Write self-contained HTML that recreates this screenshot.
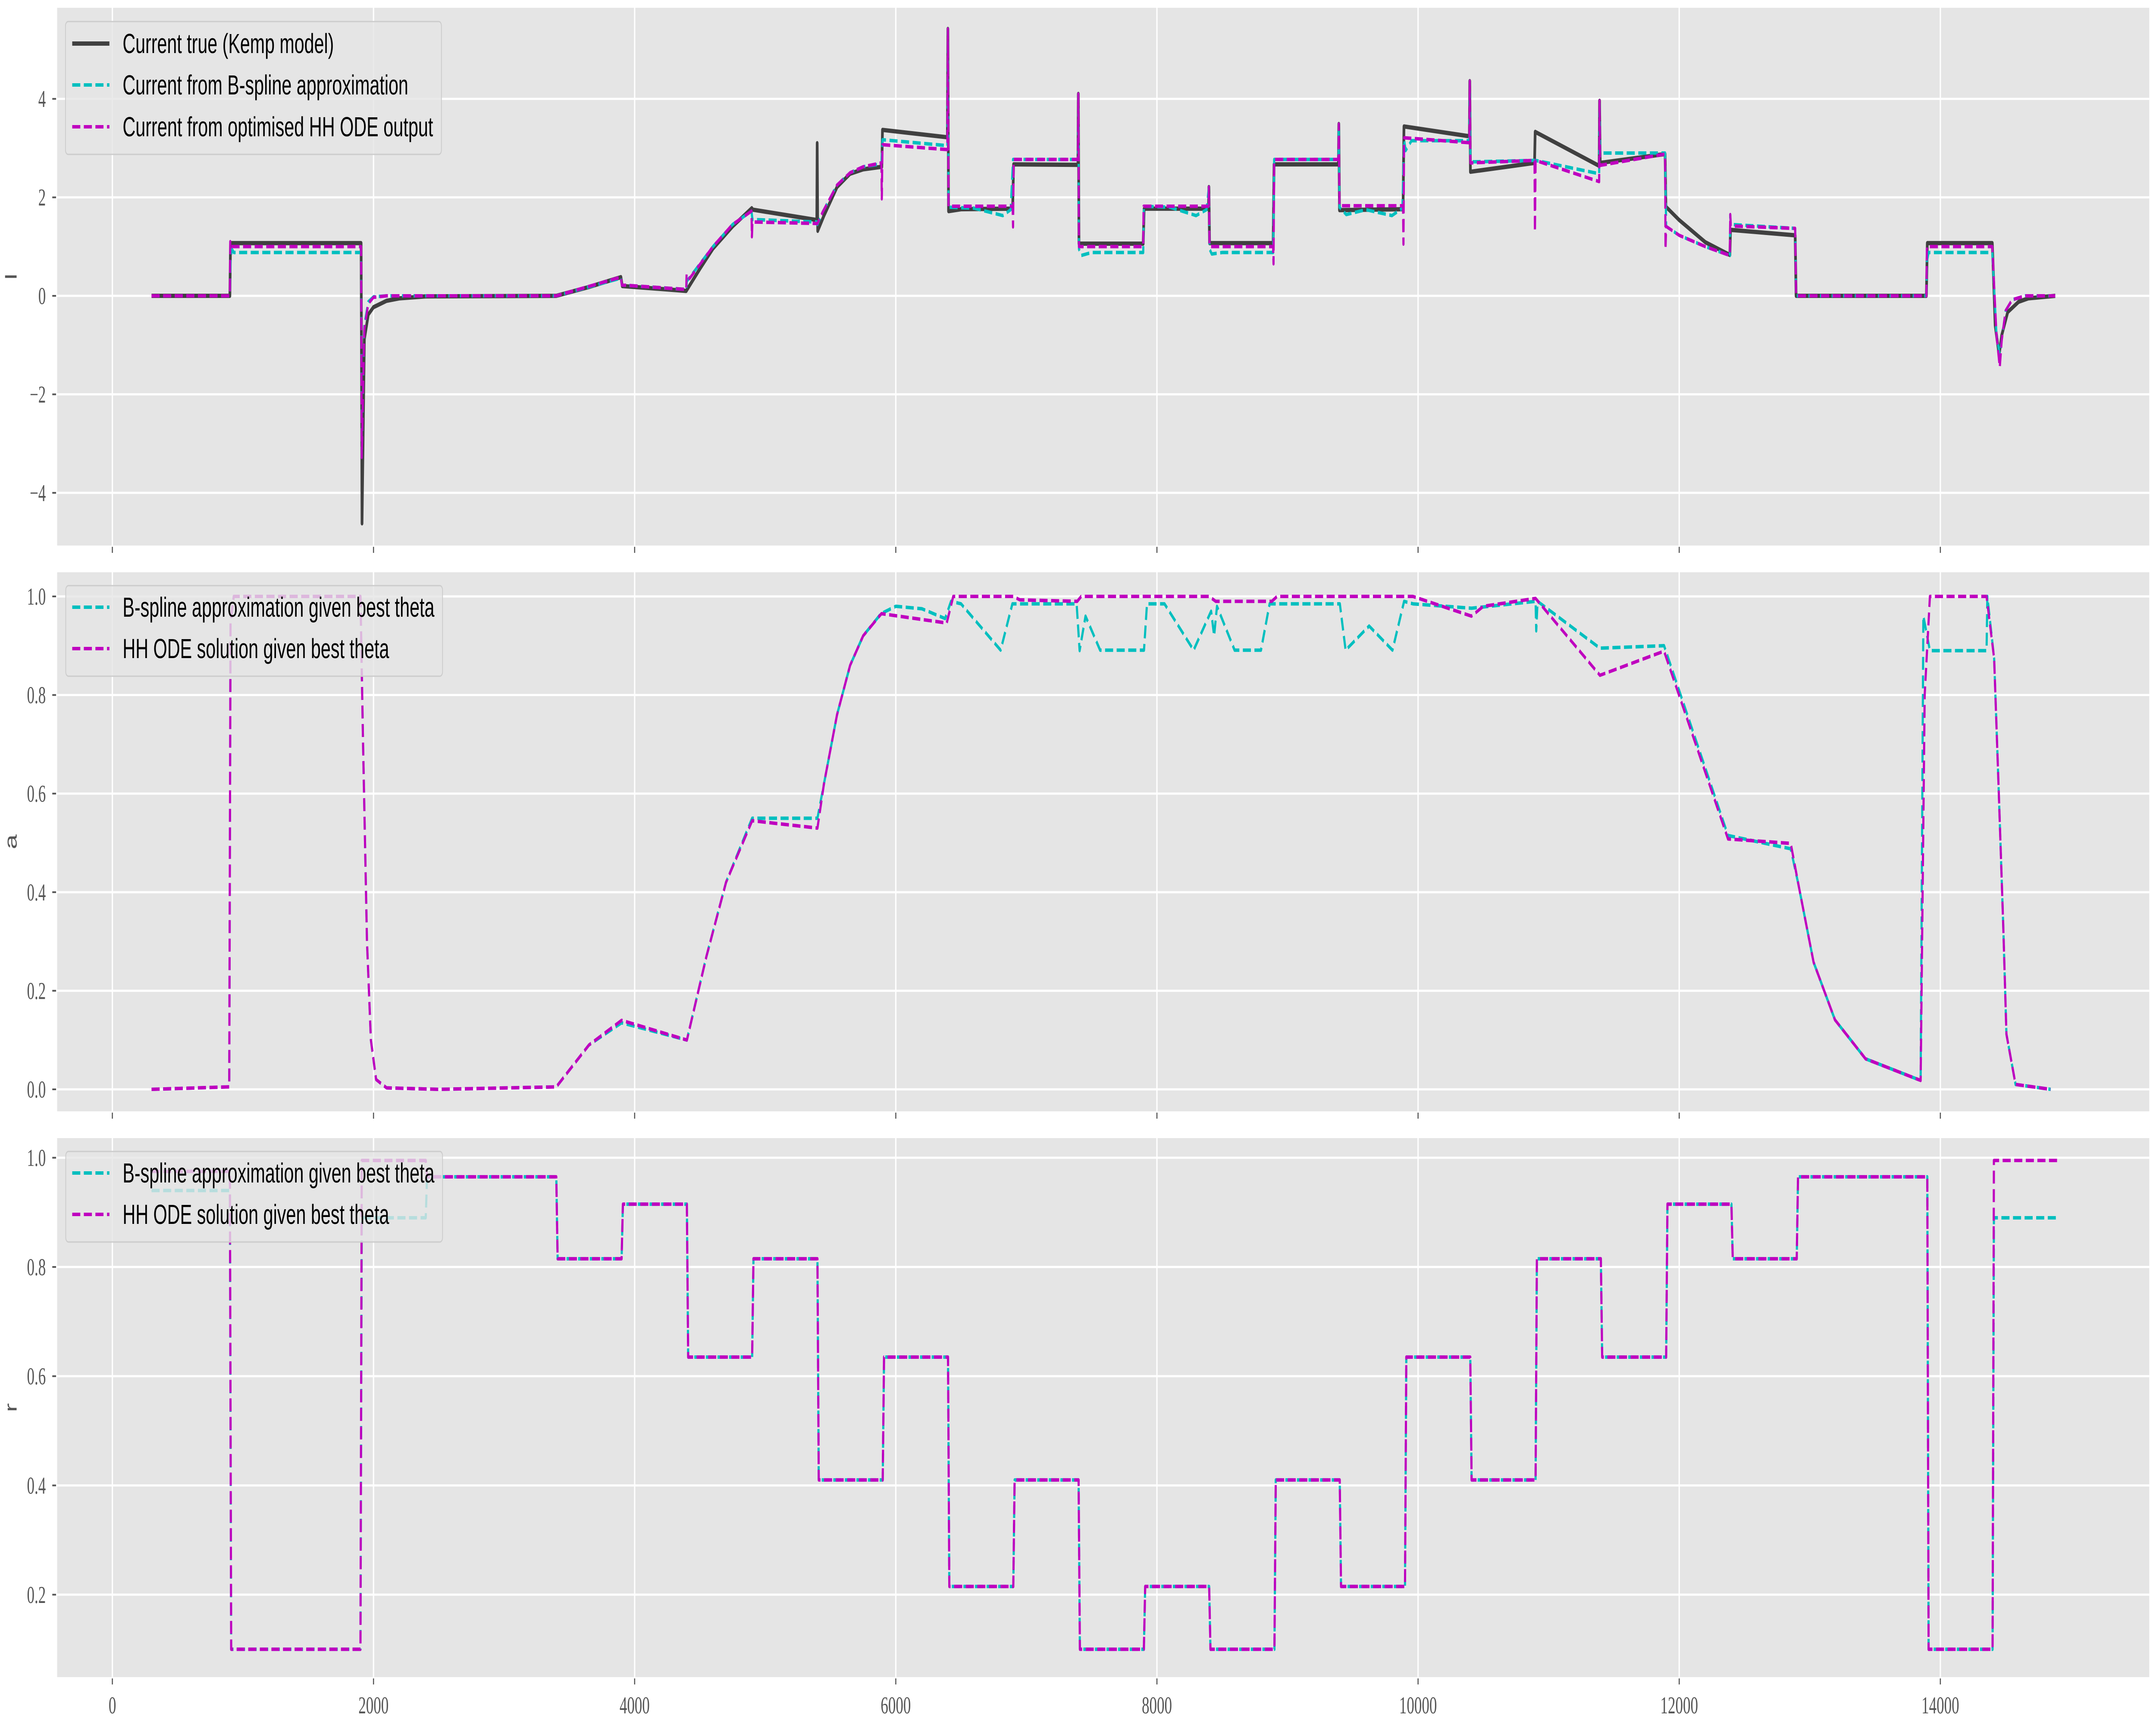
<!DOCTYPE html>
<html><head><meta charset="utf-8"><style>
html,body{margin:0;padding:0;background:#fff;overflow:hidden;width:100vw;height:100vh;}
svg{display:block;width:100vw;height:100vh;}
</style></head><body>
<svg id="chart" xmlns="http://www.w3.org/2000/svg" viewBox="0 0 8000 4000" preserveAspectRatio="none">
<rect x="0" y="0" width="8000" height="4000" fill="#ffffff"/>
<g id="panels"></g>
</svg>
<script>
// ---------- DATA ----------
const xTicks = [0, 2000, 4000, 6000, 8000, 10000, 12000, 14000];
const xTickLabels = ["0", "2000", "4000", "6000", "8000", "10000", "12000", "14000"];
const iTicks = [-4, -2, 0, 2, 4];
const iTickLabels = ["\u22124", "\u22122", "0", "2", "4"];
const aTicks = [0, 0.2, 0.4, 0.6, 0.8, 1.0];
const aTickLabels = ["0.0", "0.2", "0.4", "0.6", "0.8", "1.0"];
const rTicks = [0.2, 0.4, 0.6, 0.8, 1.0];
const rTickLabels = ["0.2", "0.4", "0.6", "0.8", "1.0"];

// Panel 1: current
const iTrueT = [300,900,905,1905,1912,1930,1960,2000,2100,2200,2400,3400,3650,3895,3905,4395,4500,4600,4750,4897,4905,5395,5398,5402,5450,5550,5650,5750,5893,5898,6395,6399,6404,6500,6895,6902,7395,7398,7403,7895,7902,8395,8398,8403,8890,8897,9390,9393,9398,9885,9892,10393,10396,10401,10892,10897,11387,11390,11395,11892,11898,12000,12200,12388,12393,12888,12895,13893,13900,14398,14420,14450,14470,14516,14600,14674,14880];
const iTrueV = [0,0,1.07,1.07,-4.62,-0.88,-0.38,-0.23,-0.1,-0.05,-0.01,0,0.18,0.38,0.2,0.1,0.55,0.96,1.41,1.78,1.75,1.54,3.1,1.32,1.63,2.21,2.48,2.57,2.62,3.37,3.22,5.42,1.72,1.76,1.77,2.67,2.66,4.1,1.06,1.06,1.77,1.77,2.21,1.07,1.07,2.67,2.67,3.49,1.74,1.76,3.44,3.24,4.36,2.52,2.7,3.33,2.64,3.96,2.7,2.88,1.81,1.54,1.09,0.83,1.34,1.23,0,0,1.07,1.07,-0.6,-1.2,-0.8,-0.33,-0.12,-0.05,0];

const iSplT = [300,900,905,915,930,1905,1910,1930,1960,2000,2100,3400,3895,3902,4395,4400,4600,4750,4895,4902,5395,5400,5440,5550,5650,5750,5890,5898,6395,6399,6404,6600,6820,6880,6898,7395,7398,7403,7420,7500,7895,7900,8100,8300,8380,8398,8403,8420,8500,8890,8898,9390,9393,9398,9450,9600,9800,9880,9893,9905,9950,10393,10396,10401,10892,10900,11387,11390,11395,11892,11900,12000,12200,12388,12391,12395,12888,12895,13893,13897,13910,14398,14430,14455,14470,14500,14550,14650,14880];
const iSplV = [0,0,0.7,0.95,0.88,0.88,-3.28,-0.6,-0.12,-0.02,0,0,0.36,0.22,0.13,0.3,1.0,1.45,1.72,1.55,1.5,1.45,1.7,2.25,2.5,2.62,2.68,3.17,3.05,5.42,1.8,1.78,1.63,1.75,2.77,2.77,4.1,0.95,0.82,0.88,0.88,1.82,1.8,1.63,1.75,2.21,0.95,0.85,0.88,0.88,2.77,2.77,3.49,1.8,1.65,1.75,1.63,1.78,3.17,2.95,3.15,3.15,4.36,2.72,2.75,2.75,2.48,3.96,2.9,2.9,1.41,1.23,1.0,0.82,1.65,1.45,1.37,0,0,0.7,0.88,0.88,-0.8,-1.2,-0.9,-0.3,-0.08,0,0];

const iOdeT = [300,900,903,908,1905,1910,1930,1960,2000,2100,3400,3895,3902,4395,4398,4420,4600,4750,4895,4898,4902,5395,5400,5440,5550,5650,5750,5890,5893,5898,6395,6399,6404,6895,6898,6903,7395,7398,7403,7895,7898,8395,8398,8403,8890,8893,8898,9390,9393,9398,9885,9888,9893,10393,10396,10401,10892,10895,10900,11387,11390,11395,11892,11895,11900,12000,12200,12388,12391,12395,12888,12895,13893,13897,14398,14430,14455,14470,14500,14550,14650,14880];
const iOdeV = [0,0,1.1,1.0,1.0,-3.28,-0.67,-0.16,-0.03,0,0,0.38,0.22,0.13,0.45,0.35,1.0,1.45,1.72,1.2,1.5,1.47,1.47,1.7,2.25,2.5,2.62,2.7,1.97,3.07,2.97,5.42,1.82,1.82,1.4,2.77,2.77,4.1,1.0,1.0,1.82,1.82,2.21,1.0,1.0,0.65,2.77,2.77,3.49,1.83,1.83,1.05,3.21,3.11,4.36,2.7,2.75,1.3,2.75,2.32,3.96,2.65,2.88,0.95,1.41,1.23,1.0,0.82,1.65,1.42,1.37,0,0,1.0,1.0,-0.8,-1.45,-0.9,-0.3,-0.08,0,0];

// Panel 2: a
const aOdeT = [300,895,905,930,1900,1920,1950,1980,2020,2100,2500,3400,3650,3900,4400,4550,4700,4900,5400,5450,5550,5650,5750,5890,6390,6440,6900,6950,7390,7420,8400,8450,8880,8920,9960,10409,10500,10900,11393,11884,12374,12854,12912,13029,13193,13427,13849,13880,13920,14354,14412,14447,14482,14506,14576,14845];
const aOdeV = [0,0.005,0.95,1.0,1.0,0.7,0.3,0.1,0.02,0.003,0,0.005,0.09,0.14,0.1,0.27,0.42,0.545,0.53,0.62,0.76,0.86,0.92,0.965,0.946,1.0,1.0,0.993,0.99,1.0,1.0,0.99,0.99,1.0,1.0,0.96,0.98,0.996,0.84,0.889,0.508,0.499,0.417,0.258,0.141,0.062,0.018,0.8,1.0,1.0,0.874,0.606,0.33,0.112,0.01,0];
const aSplT = [300,895,905,930,1900,1920,1950,1980,2020,2100,2500,3400,3650,3900,4400,4550,4700,4900,5400,5450,5550,5650,5750,5887,6000,6200,6378,6423,6500,6803,6893,7385,7408,7453,7565,7901,7924,8058,8281,8415,8438,8460,8595,8797,8863,9401,9445,9625,9804,9893,9961,10409,10900,10905,10915,11393,11884,12374,12854,12912,13029,13193,13427,13849,13870,13920,14354,14360,14412,14447,14482,14506,14576,14845];
const aSplV = [0,0.005,0.95,1.0,1.0,0.7,0.3,0.1,0.02,0.003,0,0.005,0.09,0.135,0.1,0.27,0.42,0.55,0.55,0.62,0.76,0.86,0.92,0.965,0.98,0.975,0.955,0.99,0.985,0.891,0.985,0.985,0.89,0.96,0.891,0.891,0.985,0.985,0.891,0.97,0.92,0.98,0.891,0.891,0.985,0.985,0.891,0.94,0.891,0.99,0.985,0.976,0.99,0.93,0.99,0.895,0.9,0.515,0.488,0.417,0.258,0.141,0.062,0.018,0.96,0.89,0.89,1.0,0.874,0.606,0.33,0.112,0.01,0];

// Panel 3: r (step levels between protocol times)
const rTimes = [300,900,1900,2400,3400,3900,4400,4900,5400,5900,6400,6900,7400,7900,8400,8900,9400,9900,10400,10900,11400,11900,12400,12900,13900,14400,14900];
const rOdeLevels = [0.975,0.1,0.995,0.965,0.815,0.915,0.635,0.815,0.41,0.635,0.215,0.41,0.1,0.215,0.1,0.41,0.215,0.635,0.41,0.815,0.635,0.915,0.815,0.965,0.1,0.995];
const rSplLevels = [0.94,0.1,0.89,0.965,0.815,0.915,0.635,0.815,0.41,0.635,0.215,0.41,0.1,0.215,0.1,0.41,0.215,0.635,0.41,0.815,0.635,0.915,0.815,0.965,0.1,0.89];

// ---------- RENDER ----------
const NS = "http://www.w3.org/2000/svg";
const root = document.getElementById("panels");
const X0 = 212, X1 = 7975, T0 = -423, T1 = 15600;
function xScale(t){ return X0 + (t - T0) / (T1 - T0) * (X1 - X0); }
function mk(tag, attrs, parent){
  const e = document.createElementNS(NS, tag);
  for (const k in attrs) e.setAttribute(k, attrs[k]);
  (parent || root).appendChild(e);
  return e;
}
function stepPoints(times, levels){
  const T = [], V = [];
  for (let i = 0; i < levels.length; i++){
    T.push(times[i] + (i === 0 ? 0 : 10)); V.push(levels[i]);
    T.push(times[i+1]); V.push(levels[i]);
  }
  return [T, V];
}
function pathD(T, V, yScale){
  let d = "";
  for (let i = 0; i < T.length; i++){
    d += (i ? "L" : "M") + xScale(T[i]).toFixed(1) + "," + yScale(V[i]).toFixed(1);
  }
  return d;
}

const panels = [
  {name:"current", top:18, bot:1265, vmin:-5.07, vmax:5.85, ticks:iTicks, labels:iTickLabels, ylabel:"I", xlabels:false},
  {name:"a-gate", top:1327, bot:2577, vmin:-0.0446, vmax:1.049, ticks:aTicks, labels:aTickLabels, ylabel:"a", xlabels:false},
  {name:"r-gate", top:2639, bot:3889, vmin:0.049, vmax:1.036, ticks:rTicks, labels:rTickLabels, ylabel:"r", xlabels:true}
];

panels.forEach(function(p, pi){
  const g = mk("g", {});
  
  
  const ys = function(v){ return p.bot - (v - p.vmin) / (p.vmax - p.vmin) * (p.bot - p.top); };
  const bg = mk("rect", {x:X0, y:p.top, width:X1-X0, height:p.bot-p.top, fill:"#e5e5e5"}, g);
  
  
  const clipId = "clip" + pi;
  const cp = mk("clipPath", {id:clipId}, g);
  mk("rect", {x:X0, y:p.top, width:X1-X0, height:p.bot-p.top}, cp);
  xTicks.forEach(function(t, i){
    const x = xScale(t);
    const gl = mk("line", {x1:x, x2:x, y1:p.top, y2:p.bot, stroke:"#ffffff", "stroke-width":5}, g);
    
    
    const tk = mk("line", {x1:x, x2:x, y1:p.bot+3, y2:p.bot+17, stroke:"#555555", "stroke-width":4}, g);
    
    
    if (p.xlabels){
      const tl = mk("text", {x:x, y:p.bot+84, "text-anchor":"middle", "font-family":"Liberation Serif, serif", "font-size":56, fill:"#555555"}, g);
      tl.textContent = xTickLabels[i];
      
      
    }
  });
  p.ticks.forEach(function(v, i){
    const y = ys(v);
    const gl = mk("line", {x1:X0, x2:X1, y1:y, y2:y, stroke:"#ffffff", "stroke-width":5}, g);
    
    
    const tk = mk("line", {x1:X0-18, x2:X0-4, y1:y, y2:y, stroke:"#555555", "stroke-width":4}, g);
    
    
    const tl = mk("text", {x:170, y:y+19, "text-anchor":"end", "font-family":"Liberation Serif, serif", "font-size":56, fill:"#555555"}, g);
    tl.textContent = p.labels[i];
    
    
  });
  const yc = (p.top + p.bot) / 2;
  const yl = mk("text", {x:40, y:yc, "text-anchor":"middle", "font-family":"Liberation Sans, sans-serif", "font-size":62, fill:"#555555", transform:"rotate(-90 40 "+yc+")", "dominant-baseline":"central"}, g);
  yl.textContent = p.ylabel;
  
  

  const lines = mk("g", {"clip-path":"url(#"+clipId+")", fill:"none", "stroke-linejoin":"round"}, g);
  let series = [];
  if (pi === 0){
    series = [
      {T:iTrueT, V:iTrueV, color:"#404040", w:10, dash:null, name:"current-true-line"},
      {T:iSplT, V:iSplV, color:"#00bfbf", w:8, dash:"30 13", name:"current-bspline-line"},
      {T:iOdeT, V:iOdeV, color:"#bf00bf", w:8, dash:"30 13", name:"current-ode-line"}
    ];
  } else if (pi === 1){
    series = [
      {T:aSplT, V:aSplV, color:"#00bfbf", w:8, dash:"30 13", name:"a-bspline-line"},
      {T:aOdeT, V:aOdeV, color:"#bf00bf", w:8, dash:"30 13", name:"a-ode-line"}
    ];
  } else {
    const s = stepPoints(rTimes, rSplLevels), o = stepPoints(rTimes, rOdeLevels);
    series = [
      {T:s[0], V:s[1], color:"#00bfbf", w:8, dash:"30 13", name:"r-bspline-line"},
      {T:o[0], V:o[1], color:"#bf00bf", w:8, dash:"30 13", name:"r-ode-line"}
    ];
  }
  series.forEach(function(s){
    const attrs = {d:pathD(s.T, s.V, ys), stroke:s.color, "stroke-width":s.w};
    if (s.dash) attrs["stroke-dasharray"] = s.dash;
    const pe = mk("path", attrs, lines);
    
    
  });

  let items, box, rows, lens;
  if (pi === 0){
    items = [["Current true (Kemp model)","#404040",null,10],["Current from B-spline approximation","#00bfbf","30 13",8],["Current from optimised HH ODE output","#bf00bf","30 13",8]];
    box = [243, 50, 1395, 308]; rows = [101,197,294]; lens = [784,1060,1152];
  } else {
    items = [["B-spline approximation given best theta","#00bfbf","30 13",8],["HH ODE solution given best theta","#bf00bf","30 13",8]];
    box = [244, p.top+31, 1398, 210]; rows = [p.top+81, p.top+177]; lens = [1157, 989];
  }
  const lg = mk("g", {}, g);
  
  
  mk("rect", {x:box[0], y:box[1], width:box[2], height:box[3], rx:10, ry:10, fill:"rgba(229,229,229,0.8)", stroke:"#cccccc", "stroke-width":3}, lg);
  items.forEach(function(it, k){
    const la = {x1:268, x2:406, y1:rows[k], y2:rows[k], stroke:it[1], "stroke-width":it[3]};
    if (it[2]) la["stroke-dasharray"] = it[2];
    const h = mk("line", la, lg);
    
    
    const tx = mk("text", {x:455, y:rows[k]+22, "font-family":"Liberation Sans, sans-serif", "font-size":64, fill:"#000000", textLength:lens[k], lengthAdjust:"spacingAndGlyphs"}, lg);
    tx.textContent = it[0];
    
    
  });
});
</script>
</body></html>
